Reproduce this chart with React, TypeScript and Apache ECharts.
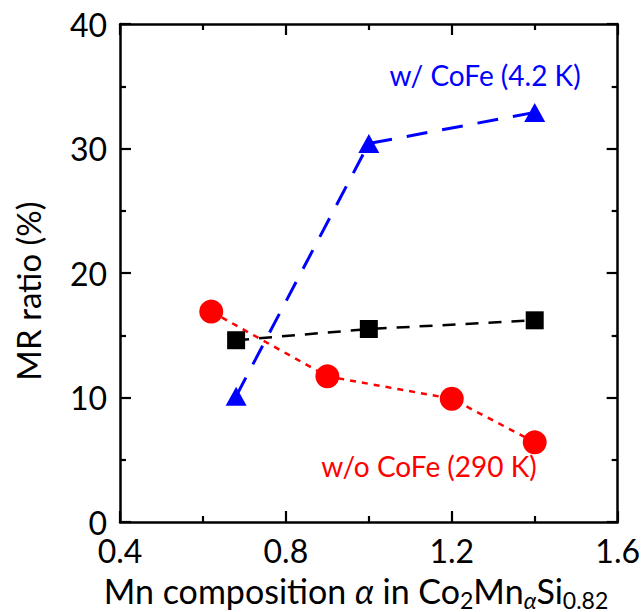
import React, { useEffect, useRef } from "react";
import * as echarts from "echarts";

const xTicks = [0.4, 0.8, 1.2, 1.6];
const yTicks = [0, 10, 20, 30, 40];

const xWoCoFe = [0.62, 0.9, 1.2, 1.4];
const yWoCoFe = [16.9, 11.7, 9.9, 6.4];

const xMid = [0.68, 1.0, 1.4];
const yMid = [14.6, 15.5, 16.2];

const xWCoFe = [0.68, 1.0, 1.4];
const yWCoFe = [10.1, 30.4, 32.9];

const labelWCoFe = "w/ CoFe (4.2 K)";
const labelWoCoFe = "w/o CoFe (290 K)";
const yTitle = "MR ratio (%)";
const xTitle = "Mn composition {a|α} in Co{s|2}Mn{sa|α}Si{s|0.82}";

const FONT = "Lato, 'Open Sans', sans-serif";

function pairs(xs: number[], ys: number[]) {
  return xs.map((x, i) => [x, ys[i]]);
}

export default function App() {
  const ref = useRef<HTMLDivElement>(null);
  useEffect(() => {
    if (!ref.current) return;
    document.body.style.margin = "0";
    const chart = echarts.init(ref.current, null, { renderer: "svg" });
    const axisCommon = (show: boolean) => ({
      type: "value" as const,
      axisLine: { show: true, onZero: false, lineStyle: { color: "#000", width: 2.5 } },
      axisTick: { show: true, inside: true, length: 11, lineStyle: { color: "#000", width: 2.2 } },
      minorTick: { show: true, splitNumber: 2, length: 6, lineStyle: { color: "#000", width: 2.2 } },
      splitLine: { show: false },
      minorSplitLine: { show: false },
      axisLabel: {
        show,
        color: "#000",
        fontSize: 32,
        fontFamily: FONT,
      },
    });
    const xMin = xTicks[0];
    const xMax = xTicks[xTicks.length - 1];
    const xInt = xTicks[1] - xTicks[0];
    const yMin = yTicks[0];
    const yMax = yTicks[yTicks.length - 1];
    const yInt = yTicks[1] - yTicks[0];
    chart.setOption({
      animation: false,
      grid: { left: 120, right: 25, top: 24, bottom: 90, containLabel: false },
      xAxis: [
        {
          ...axisCommon(true),
          position: "bottom",
          min: xMin,
          max: xMax,
          interval: xInt,
          axisLabel: {
            ...axisCommon(true).axisLabel,
            margin: 12,
            formatter: (v: number) => v.toFixed(1),
          },
        },
        {
          ...axisCommon(false),
          position: "top",
          min: xMin,
          max: xMax,
          interval: xInt,
        },
      ],
      yAxis: [
        {
          ...axisCommon(true),
          position: "left",
          min: yMin,
          max: yMax,
          interval: yInt,
          axisLabel: { ...axisCommon(true).axisLabel, margin: 13 },
        },
        {
          ...axisCommon(false),
          position: "right",
          min: yMin,
          max: yMax,
          interval: yInt,
        },
      ],
      series: [
        {
          type: "line",
          name: "w/o CoFe",
          data: pairs(xWoCoFe, yWoCoFe),
          symbol: "circle",
          symbolSize: 24,
          itemStyle: { color: "#ff0000" },
          lineStyle: { color: "#ff0000", width: 2.5, type: [6, 6] },
          z: 2,
        },
        {
          type: "line",
          name: "mid",
          data: pairs(xMid, yMid),
          symbol: "rect",
          symbolSize: 18,
          itemStyle: { color: "#000" },
          lineStyle: { color: "#000", width: 2.5, type: [13, 10] },
          z: 3,
        },
        {
          type: "line",
          name: "w/ CoFe",
          data: pairs(xWCoFe, yWCoFe),
          symbol: "triangle",
          symbolSize: [21, 19],
          itemStyle: { color: "#0000ff" },
          lineStyle: { color: "#0000ff", width: 3, type: [21, 15] },
          z: 4,
        },
      ],
      graphic: [
        {
          type: "text",
          x: 485,
          y: 75,
          style: {
            text: labelWCoFe,
            fill: "#0000ff",
            fontSize: 28,
            fontFamily: FONT,
            align: "center",
            verticalAlign: "middle",
          },
        },
        {
          type: "text",
          x: 429,
          y: 466,
          style: {
            text: labelWoCoFe,
            fill: "#ff0000",
            fontSize: 28,
            fontFamily: FONT,
            align: "center",
            verticalAlign: "middle",
          },
        },
        {
          type: "text",
          x: 28,
          y: 291,
          rotation: Math.PI / 2,
          style: {
            text: yTitle,
            fill: "#000",
            fontSize: 33,
            fontFamily: FONT,
            align: "center",
            verticalAlign: "middle",
          },
        },
        {
          type: "text",
          x: 356,
          y: 590,
          style: {
            text: xTitle,
            fill: "#000",
            fontSize: 34,
            fontFamily: FONT,
            align: "center",
            verticalAlign: "middle",
            rich: {
              a: { fontSize: 34, fontFamily: FONT, fontStyle: "italic", lineHeight: 42 },
              s: { fontSize: 23, fontFamily: FONT, lineHeight: 31, verticalAlign: "bottom" },
              sa: {
                fontSize: 23,
                fontFamily: FONT,
                fontStyle: "italic",
                lineHeight: 31,
                verticalAlign: "bottom",
              },
            },
          },
        },
      ],
    });
    return () => chart.dispose();
  }, []);
  return <div ref={ref} style={{ width: 643, height: 612 }} />;
}
